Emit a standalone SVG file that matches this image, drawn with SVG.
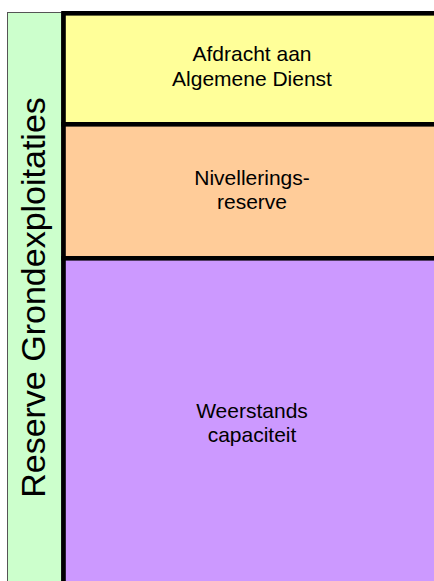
<svg xmlns="http://www.w3.org/2000/svg" width="434" height="581" viewBox="0 0 434 581">
  <style>
    .band { stroke: #000; stroke-width: 4.6; }
    .lbl { font-family: "Liberation Sans", Arial, sans-serif; font-size: 21px; fill: #000; text-anchor: middle; }
    .vlbl { font-family: "Liberation Sans", Arial, sans-serif; font-size: 34px; fill: #000; text-anchor: middle; }
  </style>
  <rect width="434" height="581" fill="#fff"/>
  <g id="reserve">
    <rect x="7.5" y="12.5" width="54" height="580" fill="#CCFFCC" stroke="#555" stroke-width="1"/>
    <text class="vlbl" transform="translate(45,297.5) rotate(-90)">Reserve Grondexploitaties</text>
  </g>
  <g id="afdracht">
    <rect class="band" x="63.5" y="13.3" width="380" height="111" fill="#FFFF99"/>
    <text class="lbl" x="252" y="61">Afdracht aan</text>
    <text class="lbl" x="252" y="85.5">Algemene Dienst</text>
  </g>
  <g id="nivellering">
    <rect class="band" x="63.5" y="124.3" width="380" height="134" fill="#FFCC99"/>
    <text class="lbl" x="252" y="185">Nivellerings-</text>
    <text class="lbl" x="252" y="209">reserve</text>
  </g>
  <g id="weerstand">
    <rect class="band" x="63.5" y="258.3" width="380" height="340" fill="#CC99FF"/>
    <text class="lbl" x="252" y="417.5">Weerstands</text>
    <text class="lbl" x="252" y="441.5">capaciteit</text>
  </g>
  <g id="connectors"/>
</svg>
